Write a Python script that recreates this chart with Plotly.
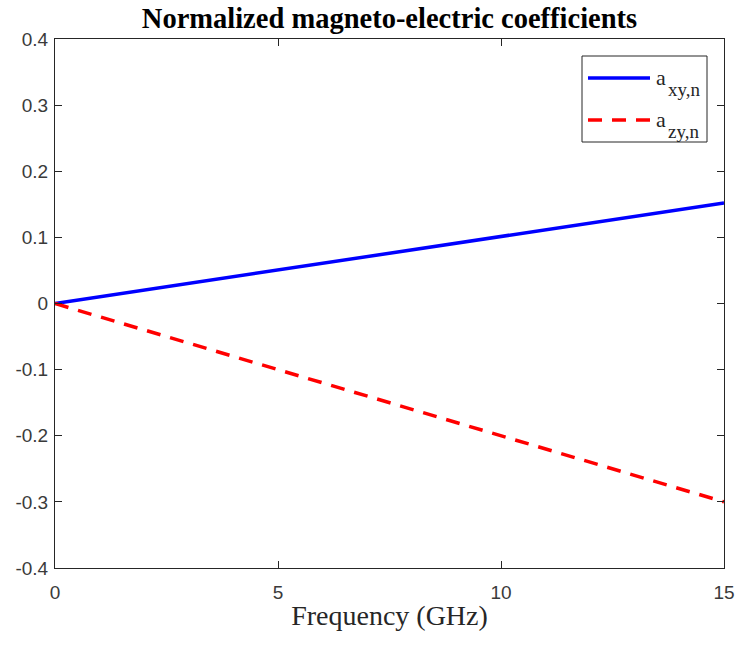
import plotly.graph_objects as go

# Normalized magneto-electric coefficients versus frequency
freq_ghz = [0, 5, 10, 15]
a_xy_n = [0.0, 0.0505, 0.101, 0.152]
a_zy_n = [0.0, -0.100, -0.200, -0.300]

x_ticks = [0, 5, 10, 15]
y_ticks = [-0.4, -0.3, -0.2, -0.1, 0, 0.1, 0.2, 0.3, 0.4]
y_tick_text = ["-0.4", "-0.3", "-0.2", "-0.1", "0", "0.1", "0.2", "0.3", "0.4"]

W, H = 739, 645
L, R, T, B = 55, 15, 39, 77
PW, PH = W - L - R, H - T - B

AX = "#262626"
TICK_TXT = "#3a3a3a"
SERIF = "Liberation Serif, Times New Roman, serif"
SANS = "Liberation Sans, Arial, sans-serif"


def px(xp):
    return (xp - L) / PW


def py(yp):
    return (H - B - yp) / PH


fig = go.Figure()
fig.add_trace(go.Scatter(x=freq_ghz, y=a_xy_n, mode="lines",
                         line=dict(color="#0000ff", width=3.5),
                         name="a_xy,n", showlegend=False))
fig.add_trace(go.Scatter(x=freq_ghz, y=a_zy_n, mode="lines",
                         line=dict(color="#ff0000", width=3.5, dash="14px,10px"),
                         name="a_zy,n", showlegend=False))

axis_common = dict(
    showline=True, linecolor=AX, linewidth=1, mirror="ticks",
    ticks="inside", ticklen=7, tickcolor=AX, tickwidth=1,
    showgrid=False, zeroline=False,
    tickfont=dict(family=SANS, size=19, color=TICK_TXT),
)

fig.update_xaxes(range=[0, 15], tickvals=x_ticks, ticktext=[str(v) for v in x_ticks],
                 ticklabelstandoff=7,
                 title=dict(text="Frequency (GHz)", font=dict(family=SERIF, size=28, color=AX),
                            standoff=3),
                 **axis_common)
fig.update_yaxes(range=[-0.4, 0.4], tickvals=y_ticks, ticktext=y_tick_text,
                 ticklabelstandoff=2, **axis_common)

# Legend drawn in the top-right corner of the axes
shapes = [
    dict(type="rect", xref="paper", yref="paper",
         x0=px(582), x1=px(707), y0=py(142), y1=py(56),
         line=dict(color=AX, width=1), fillcolor="white", layer="above"),
    dict(type="line", xref="paper", yref="paper",
         x0=px(588), x1=px(650), y0=py(78), y1=py(78),
         line=dict(color="#0000ff", width=3.5), layer="above"),
    dict(type="line", xref="paper", yref="paper",
         x0=px(588), x1=px(650), y0=py(120), y1=py(120),
         line=dict(color="#ff0000", width=3.5, dash="14px,10px"), layer="above"),
]

legend_font_main = dict(family=SERIF, size=22, color=AX)
legend_font_sub = dict(family=SERIF, size=19, color=AX)
annotations = [
    dict(text="a", xref="paper", yref="paper", x=px(654), y=py(77),
         xanchor="left", yanchor="middle", showarrow=False, font=legend_font_main),
    dict(text="xy,n", xref="paper", yref="paper", x=px(666), y=py(89),
         xanchor="left", yanchor="middle", showarrow=False, font=legend_font_sub),
    dict(text="a", xref="paper", yref="paper", x=px(654), y=py(119),
         xanchor="left", yanchor="middle", showarrow=False, font=legend_font_main),
    dict(text="zy,n", xref="paper", yref="paper", x=px(666), y=py(131),
         xanchor="left", yanchor="middle", showarrow=False, font=legend_font_sub),
]

fig.update_layout(
    width=W, height=H,
    margin=dict(l=L, r=R, t=T, b=B, autoexpand=False),
    paper_bgcolor="white", plot_bgcolor="white",
    title=dict(text="<b>Normalized magneto-electric coefficients</b>",
               x=(L + PW / 2) / W, xanchor="center",
               y=1 - 18 / H, yanchor="middle",
               font=dict(family=SERIF, size=28.5, color="#000000")),
    shapes=shapes, annotations=annotations,
    showlegend=False,
)

fig.write_html("out.html")
